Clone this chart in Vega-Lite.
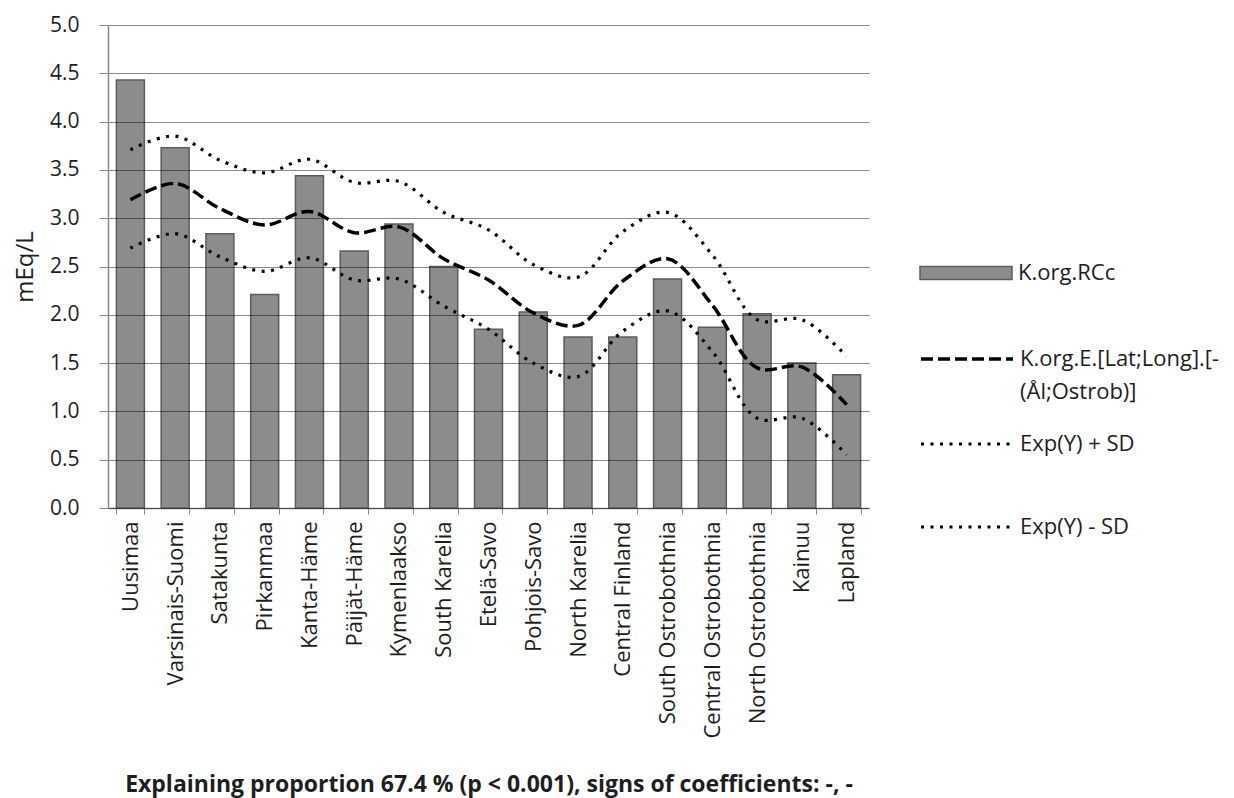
{
  "$schema": "https://vega.github.io/schema/vega-lite/v6.json",
  "width": 761,
  "height": 483,
  "autosize": {"type": "none"},
  "padding": {"left": 108, "top": 25, "right": 365, "bottom": 290},
  "background": "white",
  "config": {
    "font": "Open Sans",
    "view": {"stroke": null},
    "axis": {"labelColor": "#1e1e1e", "titleColor": "#1e1e1e", "domainColor": "#8a8a8a", "tickColor": "#8a8a8a"},
    "legend": {"labelColor": "#1e1e1e", "labelFont": "Open Sans", "labelFontSize": 22, "labelOffset": 5, "labelLimit": 400, "padding": 0, "title": null}
  },
  "datasets": {
    "measured": [
      {"region": "Uusimaa", "value": 4.43},
      {"region": "Varsinais-Suomi", "value": 3.73},
      {"region": "Satakunta", "value": 2.84},
      {"region": "Pirkanmaa", "value": 2.21},
      {"region": "Kanta-Häme", "value": 3.44},
      {"region": "Päijät-Häme", "value": 2.66},
      {"region": "Kymenlaakso", "value": 2.94},
      {"region": "South Karelia", "value": 2.5},
      {"region": "Etelä-Savo", "value": 1.85},
      {"region": "Pohjois-Savo", "value": 2.03},
      {"region": "North Karelia", "value": 1.77},
      {"region": "Central Finland", "value": 1.77},
      {"region": "South Ostrobothnia", "value": 2.37},
      {"region": "Central Ostrobothnia", "value": 1.87},
      {"region": "North Ostrobothnia", "value": 2.01},
      {"region": "Kainuu", "value": 1.5},
      {"region": "Lapland", "value": 1.38}
    ],
    "fitted": [
      {"region": "Uusimaa", "value": 3.19},
      {"region": "Varsinais-Suomi", "value": 3.36},
      {"region": "Satakunta", "value": 3.1},
      {"region": "Pirkanmaa", "value": 2.93},
      {"region": "Kanta-Häme", "value": 3.07},
      {"region": "Päijät-Häme", "value": 2.85},
      {"region": "Kymenlaakso", "value": 2.91},
      {"region": "South Karelia", "value": 2.58},
      {"region": "Etelä-Savo", "value": 2.36},
      {"region": "Pohjois-Savo", "value": 2.02},
      {"region": "North Karelia", "value": 1.89},
      {"region": "Central Finland", "value": 2.35},
      {"region": "South Ostrobothnia", "value": 2.58},
      {"region": "Central Ostrobothnia", "value": 2.1},
      {"region": "North Ostrobothnia", "value": 1.45},
      {"region": "Kainuu", "value": 1.46},
      {"region": "Lapland", "value": 1.07}
    ],
    "upper": [
      {"region": "Uusimaa", "value": 3.71},
      {"region": "Varsinais-Suomi", "value": 3.85},
      {"region": "Satakunta", "value": 3.6},
      {"region": "Pirkanmaa", "value": 3.47},
      {"region": "Kanta-Häme", "value": 3.61},
      {"region": "Päijät-Häme", "value": 3.37},
      {"region": "Kymenlaakso", "value": 3.38},
      {"region": "South Karelia", "value": 3.06},
      {"region": "Etelä-Savo", "value": 2.88},
      {"region": "Pohjois-Savo", "value": 2.52},
      {"region": "North Karelia", "value": 2.39},
      {"region": "Central Finland", "value": 2.86},
      {"region": "South Ostrobothnia", "value": 3.06},
      {"region": "Central Ostrobothnia", "value": 2.62},
      {"region": "North Ostrobothnia", "value": 1.95},
      {"region": "Kainuu", "value": 1.95},
      {"region": "Lapland", "value": 1.57}
    ],
    "lower": [
      {"region": "Uusimaa", "value": 2.69},
      {"region": "Varsinais-Suomi", "value": 2.84},
      {"region": "Satakunta", "value": 2.6},
      {"region": "Pirkanmaa", "value": 2.45},
      {"region": "Kanta-Häme", "value": 2.59},
      {"region": "Päijät-Häme", "value": 2.36},
      {"region": "Kymenlaakso", "value": 2.37},
      {"region": "South Karelia", "value": 2.09},
      {"region": "Etelä-Savo", "value": 1.85},
      {"region": "Pohjois-Savo", "value": 1.5},
      {"region": "North Karelia", "value": 1.36},
      {"region": "Central Finland", "value": 1.83},
      {"region": "South Ostrobothnia", "value": 2.04},
      {"region": "Central Ostrobothnia", "value": 1.62},
      {"region": "North Ostrobothnia", "value": 0.93},
      {"region": "Kainuu", "value": 0.93},
      {"region": "Lapland", "value": 0.55}
    ]
  },
  "encoding": {
    "x": {
      "field": "region",
      "type": "nominal",
      "scale": {
        "domain": ["Uusimaa", "Varsinais-Suomi", "Satakunta", "Pirkanmaa", "Kanta-Häme", "Päijät-Häme", "Kymenlaakso", "South Karelia", "Etelä-Savo", "Pohjois-Savo", "North Karelia", "Central Finland", "South Ostrobothnia", "Central Ostrobothnia", "North Ostrobothnia", "Kainuu", "Lapland"],
        "paddingInner": 0.375,
        "paddingOuter": 0.1875
      },
      "axis": {
        "title": "Explaining proportion 67.4 % (p < 0.001), signs of coefficients: -, -",
        "titleFont": "Open Sans",
        "titleFontSize": 23,
        "titleFontWeight": "bold",
        "titlePadding": 65,
        "labelAngle": -90,
        "labelFontSize": 22,
        "labelLimit": 400,
        "labelPadding": 7,
        "tickBand": "extent",
        "tickSize": 6,
        "domainWidth": 1.5
      }
    },
    "y": {
      "field": "value",
      "type": "quantitative",
      "scale": {"domain": [0, 5], "nice": false, "zero": true},
      "axis": {
        "title": "mEq/L",
        "titleFontSize": 24,
        "titleFontWeight": "normal",
        "titlePadding": 12,
        "values": [0, 0.5, 1, 1.5, 2, 2.5, 3, 3.5, 4, 4.5, 5],
        "format": ".1f",
        "labelFontSize": 21,
        "labelPadding": 20,
        "tickSize": 9,
        "domainWidth": 1.5,
        "gridColor": "#000000",
        "gridOpacity": 0.46,
        "gridWidth": 1.2,
        "zindex": 1
      }
    }
  },
  "layer": [
    {
      "data": {"name": "measured"},
      "mark": {"type": "bar", "stroke": "#5c5c5c", "strokeWidth": 1.5},
      "encoding": {
        "fill": {
          "datum": "K.org.RCc",
          "scale": {"range": ["#8c8c8c"]},
          "legend": {
            "orient": "none",
            "legendX": 811,
            "legendY": 201,
            "symbolType": "M-1,-0.14H1V0.14H-1Z",
            "symbolSize": 8464,
            "symbolStrokeColor": "#5c5c5c",
            "symbolStrokeWidth": 1.5
          }
        }
      }
    },
    {
      "data": {"name": "fitted"},
      "mark": {"type": "line", "interpolate": "catmull-rom", "color": "#000000", "strokeWidth": 3.5},
      "encoding": {
        "strokeDash": {
          "datum": "K.org.E.[Lat;Long].[-(Ål;Ostrob)]",
          "scale": {"range": [[12, 5]]},
          "legend": {
            "orient": "none",
            "legendX": 811,
            "legendY": 286,
            "symbolType": "stroke",
            "symbolSize": 8464,
            "symbolStrokeWidth": 3.5,
            "symbolStrokeColor": "#000000",
            "labelExpr": "['K.org.E.[Lat;Long].[-', '(Ål;Ostrob)]']",
            "encode": {"labels": {"update": {"lineHeight": {"value": 33}}}}
          }
        }
      }
    },
    {
      "data": {"name": "upper"},
      "mark": {"type": "line", "interpolate": "catmull-rom", "color": "#000000", "strokeWidth": 3.2},
      "encoding": {
        "strokeDash": {
          "datum": "Exp(Y) + SD",
          "scale": {"range": [[3, 6.5]]},
          "legend": {
            "orient": "none",
            "legendX": 811,
            "legendY": 371,
            "symbolType": "stroke",
            "symbolSize": 8464,
            "symbolStrokeWidth": 3.2,
            "symbolStrokeColor": "#000000"
          }
        }
      }
    },
    {
      "data": {"name": "lower"},
      "mark": {"type": "line", "interpolate": "catmull-rom", "color": "#000000", "strokeWidth": 3.2},
      "encoding": {
        "strokeDash": {
          "datum": "Exp(Y) - SD",
          "scale": {"range": [[3, 6.5]]},
          "legend": {
            "orient": "none",
            "legendX": 811,
            "legendY": 454,
            "symbolType": "stroke",
            "symbolSize": 8464,
            "symbolStrokeWidth": 3.2,
            "symbolStrokeColor": "#000000"
          }
        }
      }
    }
  ],
  "resolve": {"scale": {"strokeDash": "independent"}, "legend": {"strokeDash": "independent"}}
}
